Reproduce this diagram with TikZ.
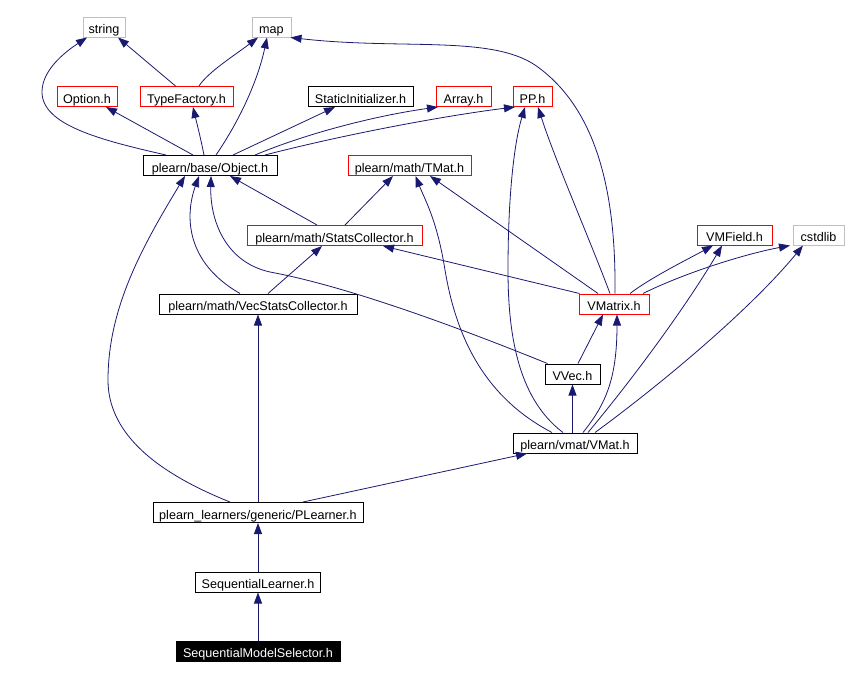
\documentclass[tikz,border=0pt]{standalone}
\usepackage{fontspec}
\setmainfont{Liberation Sans}
\usetikzlibrary{arrows.meta}
\definecolor{edgeblue}{RGB}{25,25,112}
\definecolor{boxgray}{RGB}{191,191,191}
\begin{document}
\begin{tikzpicture}[x=1pt,y=-1pt,font=\fontsize{12.6}{14}\selectfont,
  box/.style={draw=black,line width=1pt,minimum height=20pt,inner sep=0pt,text height=13.5pt,text depth=0pt,fill=white},
  redbox/.style={box,draw=red},
  graybox/.style={box,draw=boxgray},
  selbox/.style={box,fill=black,text=white},
  dep/.style={draw=edgeblue,line width=.8pt,-{Triangle[length=11pt,width=8pt]}}]
\useasboundingbox (0,0) rectangle (846,678);
% headers
\node[graybox,minimum width=42pt] (str) at (104,27) {string};
\node[graybox,minimum width=39pt] (map) at (271.5,27) {map};
\node[redbox,minimum width=60pt] (opt) at (87,96.5) {Option.h};
\node[redbox,minimum width=93pt] (tf) at (186.5,96.5) {TypeFactory.h};
\node[box,minimum width=105pt] (si) at (360.5,96.5) {StaticInitializer.h};
\node[redbox,minimum width=55pt] (arr) at (463.5,96.5) {Array.h};
\node[redbox,minimum width=39pt] (pp) at (532.5,96.5) {PP.h};
\node[box,minimum width=134pt] (obj) at (210,165.5) {plearn/base/Object.h};
\node[redbox,minimum width=123pt] (tmat) at (409.5,165.5) {plearn/math/TMat.h};
\node[redbox,minimum width=175pt] (sc) at (334.5,235.5) {plearn/math/StatsCollector.h};
\node[redbox,minimum width=75pt] (vmf) at (734.5,235) {VMField.h};
\node[graybox,minimum width=51pt] (cst) at (818.5,235) {cstdlib};
\node[box,minimum width=198pt] (vsc) at (258,304) {plearn/math/VecStatsCollector.h};
\node[redbox,minimum width=70pt] (vmx) at (614,304) {VMatrix.h};
\node[box,minimum width=55pt] (vvec) at (572.5,374) {VVec.h};
\node[box,minimum width=124pt] (vmat) at (575,443) {plearn/vmat/VMat.h};
\node[box,minimum width=210pt] (pl) at (258,512.5) {plearn\_learners/generic/PLearner.h};
\node[box,minimum width=125pt] (sl) at (258,582) {SequentialLearner.h};
\node[selbox,minimum width=164pt] (sms) at (258,651) {SequentialModelSelector.h};
% dependencies
\draw[dep] ([xshift=-11pt]tf.north) -- ([xshift=14pt]str.south);
\draw[dep] ([xshift=12.5pt]tf.north) .. controls (208,72) and (235,55) .. ([xshift=-13.5pt]map.south);
\draw[dep] ([xshift=-44pt]obj.north) .. controls (100,140) and (42,125) .. (42,92) .. controls (42,70) and (65,52) .. ([xshift=-17pt]str.south);
\draw[dep] ([xshift=-17pt]obj.north) -- ([xshift=19pt]opt.south);
\draw[dep] ([xshift=-6pt]obj.north) .. controls (200,135) and (196,120) .. ([xshift=6.5pt]tf.south);
\draw[dep] ([xshift=6pt]obj.north) .. controls (240,120) and (258,80) .. ([xshift=-4.5pt]map.south);
\draw[dep] ([xshift=23pt]obj.north) -- ([xshift=-25.5pt]si.south);
\draw[dep] ([xshift=45pt]obj.north) .. controls (310,132) and (380,115) .. ([xshift=-25.5pt]arr.south);
\draw[dep] ([xshift=55pt]obj.north) .. controls (350,133) and (450,115) .. ([xshift=-17.5pt]pp.south);
\draw[dep] ([xshift=1pt]vmx.north) .. controls (616,200) and (600,110) .. (535,65) .. controls (490,35) and (400,50) .. ([xshift=-1pt]map.south east);
\draw[dep] ([xshift=-4pt]vmx.north) .. controls (590,240) and (555,160) .. ([xshift=5.5pt]pp.south);
\draw[dep] ([xshift=-12pt]vmat.north) .. controls (520,400) and (508,340) .. (508,270) .. controls (508,190) and (515,140) .. ([xshift=-7.5pt]pp.south);
\draw[dep] ([xshift=-23pt]vmat.north) .. controls (480,395) and (455,330) .. (445,270) .. controls (437,220) and (425,200) .. ([xshift=6pt]tmat.south);
\draw[dep] ([xshift=-16pt]vmx.north) -- ([xshift=20.5pt]tmat.south);
\draw[dep] ([xshift=10.5pt]sc.north) -- ([xshift=-16.5pt]tmat.south);
\draw[dep] ([xshift=-17.5pt]sc.north) -- ([xshift=20pt]obj.south);
\draw[dep] ([xshift=1pt]vmx.north west) -- ([xshift=48.5pt]sc.south);
\draw[dep] ([xshift=10pt]vsc.north) -- ([xshift=-12.5pt]sc.south);
\draw[dep] ([xshift=-18pt]vsc.north) .. controls (185,262) and (185,215) .. ([xshift=-11pt]obj.south);
\draw[dep] ([xshift=3pt]vvec.north west) .. controls (440,320) and (340,285) .. (270,272) .. controls (225,262) and (210,220) .. ([xshift=1pt]obj.south);
\draw[dep] ([xshift=5.5pt]vvec.north) -- ([xshift=-11pt]vmx.south);
\draw[dep] ([xshift=8pt]vmat.north) .. controls (605,405) and (617,380) .. ([xshift=3pt]vmx.south);
\draw[dep] (vvec.south |- vmat.north) -- (vvec.south);
\draw[dep] ([xshift=13pt]vmat.north) .. controls (640,370) and (690,300) .. ([xshift=-12.5pt]vmf.south);
\draw[dep] ([xshift=20pt]vmat.north) .. controls (660,385) and (750,310) .. ([xshift=-15.5pt]cst.south);
\draw[dep] ([xshift=16pt]vmx.north) .. controls (650,278) and (690,258) .. ([xshift=-21.5pt]vmf.south);
\draw[dep] ([xshift=29pt]vmx.north) .. controls (680,275) and (740,255) .. ([xshift=-28.5pt]cst.south);
\draw[dep] ([xshift=-28pt]pl.north) .. controls (150,470) and (108,430) .. (108,380) .. controls (108,310) and (140,250) .. ([xshift=-25pt]obj.south);
\draw[dep] (pl.north) -- (vsc.south);
\draw[dep] ([xshift=45pt]pl.north) -- ([xshift=-48pt]vmat.south);
\draw[dep] (sl.north) -- (pl.south);
\draw[dep] (sms.north) -- (sl.south);
\end{tikzpicture}
\end{document}
